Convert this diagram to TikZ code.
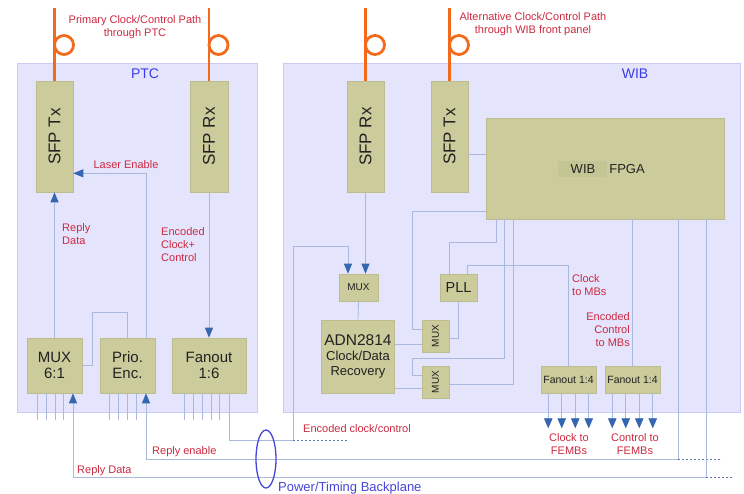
\documentclass[tikz,border=0pt]{standalone}
\usepackage{fontspec}
\usepackage{graphicx}
\setmainfont{Liberation Sans}
\usetikzlibrary{arrows.meta,shapes.geometric,calc}
\definecolor{bgbox}{HTML}{E4E4FC}
\definecolor{bgline}{HTML}{C9CCF0}
\definecolor{compfill}{HTML}{CBCB9C}
\definecolor{compline}{HTML}{BCBC8E}
\definecolor{compdark}{HTML}{C3C694}
\definecolor{wire}{HTML}{A9B8DC}
\definecolor{arrowc}{HTML}{3566B0}
\definecolor{redtxt}{HTML}{CC2A40}
\definecolor{bluetxt}{HTML}{3B3BE8}
\definecolor{ellc}{HTML}{4646D8}
\definecolor{fiberc}{HTML}{F26A1B}
\definecolor{dotc}{HTML}{5A78A8}
\definecolor{comptxt}{HTML}{222222}
\newcommand{\fs}[2]{\fontsize{#1}{#2}\selectfont}
\begin{document}
\begin{tikzpicture}[x=1pt,y=-1pt,
  bigbox/.style={draw=bgline, fill=bgbox, line width=0.8pt, inner sep=0pt, rectangle},
  comp/.style={draw=compline, fill=compfill, line width=0.6pt, inner sep=0pt, align=center, text=comptxt},
  ln/.style={draw=wire, line width=0.8pt},
  arr/.style={ln, -{Triangle[width=8pt,length=10pt,color=arrowc]}},
  arrF/.style={ln, -{Triangle[width=8.5pt,length=10pt,color=arrowc]}},
  fib/.style={draw=fiberc, line width=2.8pt},
  lbl/.style={text=redtxt, font=\fs{11}{13}, inner sep=0pt},
  dotline/.style={draw=dotc, line width=0.9pt, dash pattern=on 2pt off 2pt}
]
\useasboundingbox (0,0) rectangle (744,494);
\fill[white] (0,0) rectangle (744,494);

% big boxes
\node[bigbox, minimum width=240, minimum height=349] (ptc) at (137,237.5) {};
\node[bigbox, minimum width=457, minimum height=349] (wib) at (511.5,237.5) {};
\node[font=\fs{14}{16}, text=bluetxt] (ptclbl) at (145,74) {PTC};
\node[font=\fs{14}{16}, text=bluetxt] (wiblbl) at (635,74) {WIB};

% PTC components
\node[comp, minimum width=37, minimum height=111, font=\fs{17}{19}] (sfptxA) at (54.5,136.5) {\rotatebox{90}{SFP Tx}};
\node[comp, minimum width=38, minimum height=111, font=\fs{17}{19}] (sfprxA) at (209,136.5) {\rotatebox{90}{SFP Rx}};
\node[comp, minimum width=55, minimum height=55, font=\fs{15}{16}] (mux61) at (54.5,365.5) {MUX\\6:1};
\node[comp, minimum width=55, minimum height=55, font=\fs{15}{16}] (prio) at (127.5,365.5) {Prio.\\Enc.};
\node[comp, minimum width=74, minimum height=55, font=\fs{15}{16}] (fan16) at (209,365.5) {Fanout\\1:6};

% WIB components
\node[comp, minimum width=37, minimum height=111, font=\fs{17}{19}] (sfprxB) at (365.5,136.5) {\rotatebox{90}{SFP Rx}};
\node[comp, minimum width=37, minimum height=111, font=\fs{17}{19}] (sfptxB) at (449.5,136.5) {\rotatebox{90}{SFP Tx}};
\node[comp, minimum width=238, minimum height=101] (fpga) at (605,168.5) {};
\fill[compdark] (558,161) rectangle (607,177);
\node[font=\fs{13}{15}, text=comptxt] (fpgaW) at (583,169) {WIB};
\node[font=\fs{13}{15}, text=comptxt] (fpgaF) at (627,169) {FPGA};
\node[comp, minimum width=39, minimum height=27, font=\fs{10}{12}] (wmux) at (358.5,287.5) {MUX};
\node[comp, minimum width=73, minimum height=73, font=\fs{13}{15}] (adn) at (358,356.5) {{\fs{15.5}{15}ADN2814}\\Clock/Data\\Recovery};
\node[comp, minimum width=37, minimum height=27, font=\fs{14.5}{16}] (pll) at (458.5,287.5) {PLL};
\node[comp, minimum width=27, minimum height=32, font=\fs{10}{12}] (muxB) at (435.5,336) {\rotatebox{90}{MUX}};
\node[comp, minimum width=27, minimum height=32, font=\fs{10}{12}] (muxC) at (435.5,382) {\rotatebox{90}{MUX}};
\node[comp, minimum width=55, minimum height=27, font=\fs{10.5}{12}] (fanA) at (568.5,379.5) {Fanout 1:4};
\node[comp, minimum width=55, minimum height=27, font=\fs{10.5}{12}] (fanB) at (632.5,379.5) {Fanout 1:4};

% fibers
\coordinate (fiA) at (54.5,8);
\coordinate (fiB) at (209,8);
\coordinate (fiC) at (365.5,8);
\coordinate (fiD) at (449.5,8);
\draw[fib] (sfptxA.north) -- (fiA);
\draw[fib] (sfprxA.north) -- (fiB);
\draw[fib] (sfprxB.north) -- (fiC);
\draw[fib] (sfptxB.north) -- (fiD);
\draw[fib] (64,45) circle[radius=9.5pt];
\draw[fib] (218.5,45) circle[radius=9.5pt];
\draw[fib] (375,45) circle[radius=9.5pt];
\draw[fib] (459,45) circle[radius=9.5pt];

% titles
\node[lbl, align=center] (tA) at (135,27.5) {Primary Clock/Control Path\\through PTC};
\node[lbl, align=center] (tB) at (533,24.5) {Alternative Clock/Control Path\\through WIB front panel};

% PTC connections
\draw[arr] (mux61.north) -- (sfptxA.south);
\draw[ln] (mux61.east) -| (92,312) -| (prio.north);
\draw[arr] ([xshift=18.5]prio.north) |- ([yshift=19]sfptxA.south east);
\draw[arr] (sfprxA.south) -- (fan16.north);
\node[lbl, anchor=center] (laser) at (126,165) {Laser Enable};
\node[lbl, anchor=west, align=left] (rdlbl) at (62,234.5) {Reply\\Data};
\node[lbl, anchor=west, align=left] (eclbl) at (161,245) {Encoded\\Clock+\\Control};

% PTC pins
\foreach \dx in {-17.5,-8.5,0.5,8.5} \draw[ln] ([xshift=\dx]mux61.south) -- ++(0,27);
\foreach \dx in {-18.5,-9.5,-0.5,8.5} \draw[ln] ([xshift=\dx]prio.south) -- ++(0,27);
\foreach \dx in {-25,-16,-7,2,10.5} \draw[ln] ([xshift=\dx]fan16.south) -- ++(0,27);

% WIB connections
\draw[arr] (sfprxB.south) -- ([xshift=7]wmux.north);
\draw[ln] ([yshift=-17.5]sfptxB.east) -- ([yshift=14.5]fpga.west);
\draw[ln] (wmux.south) -- (adn.north);
\draw[ln] ([yshift=12.5]adn.east) -- ([yshift=-8]muxB.west);
\draw[ln] ([yshift=-31.5]adn.east) -- ([yshift=-6]muxC.west);
\draw[ln] ([yshift=-2]muxB.east) -| (pll.south);
\draw[ln] ([yshift=-42.5]fpga.west) -| (412,329) -- ([yshift=7]muxB.west);
\draw[ln] ([xshift=-9.5]pll.north) |- (496,242) -- ([xshift=-109]fpga.south);
\draw[ln] ([xshift=8.5]pll.north) |- (568.5,265) -- (fanA.north);
\draw[ln] ([xshift=-101]fpga.south) |- (412,358) |- ([yshift=7]muxC.west);
\draw[ln] ([yshift=-2]muxC.east) -| ([xshift=-92]fpga.south);
\draw[ln] (fanB.north |- fpga.south) -- (fanB.north);
\node[lbl, anchor=west, align=left] (cmb) at (572,285) {Clock\\to MBs};
\node[lbl, anchor=east, align=right] (ecmb) at (630,330) {Encoded\\Control\\to MBs};

\foreach \dx in {-20.25,-6.75,6.75,20.25} \draw[arrF] ([xshift=\dx]fanA.south) -- ++(0,35);
\foreach \dx in {-20.25,-6.75,6.75,20.25} \draw[arrF] ([xshift=\dx]fanB.south) -- ++(0,35);
\node[lbl, align=center] (cfe) at (569,444.5) {Clock to\\FEMBs};
\node[lbl, align=center] (ctfe) at (635,444.5) {Control to\\FEMBs};

% encoded clock/control path through backplane
\coordinate (ecA) at (293,440);
\coordinate (ecB) at (348,440);
\draw[arr] ([xshift=20]fan16.south) |- (ecA) |- (348,246) -- ([xshift=-10.5]wmux.north);
\draw[dotline] (ecA) -- (ecB);
\node[lbl, anchor=west] (eclbl2) at (303,429) {Encoded clock/control};

% reply enable
\coordinate (reA) at (678,459);
\coordinate (reB) at (722,459);
\draw[arr] ([xshift=73]fpga.south) |- (146,459) -- ([xshift=18.5]prio.south);
\draw[dotline] (reA) -- (reB);
\node[lbl, anchor=west] (relbl) at (152,452) {Reply enable};

% reply data
\coordinate (rdA) at (706,477);
\coordinate (rdB) at (732,477);
\draw[arr] ([xshift=101]fpga.south) |- (73,477) -- ([xshift=18.5]mux61.south);
\draw[dotline] (rdA) -- (rdB);
\node[lbl, anchor=west] (rdlbl2) at (77,471) {Reply Data};

% backplane
\node[draw=ellc, line width=1.3pt, ellipse, minimum width=20, minimum height=58, inner sep=0pt] (bp) at (266,459) {};
\node[font=\fs{13}{15}, text=ellc, anchor=west, inner sep=0pt] (bplbl) at (278,488) {Power/Timing Backplane};
\end{tikzpicture}
\end{document}
